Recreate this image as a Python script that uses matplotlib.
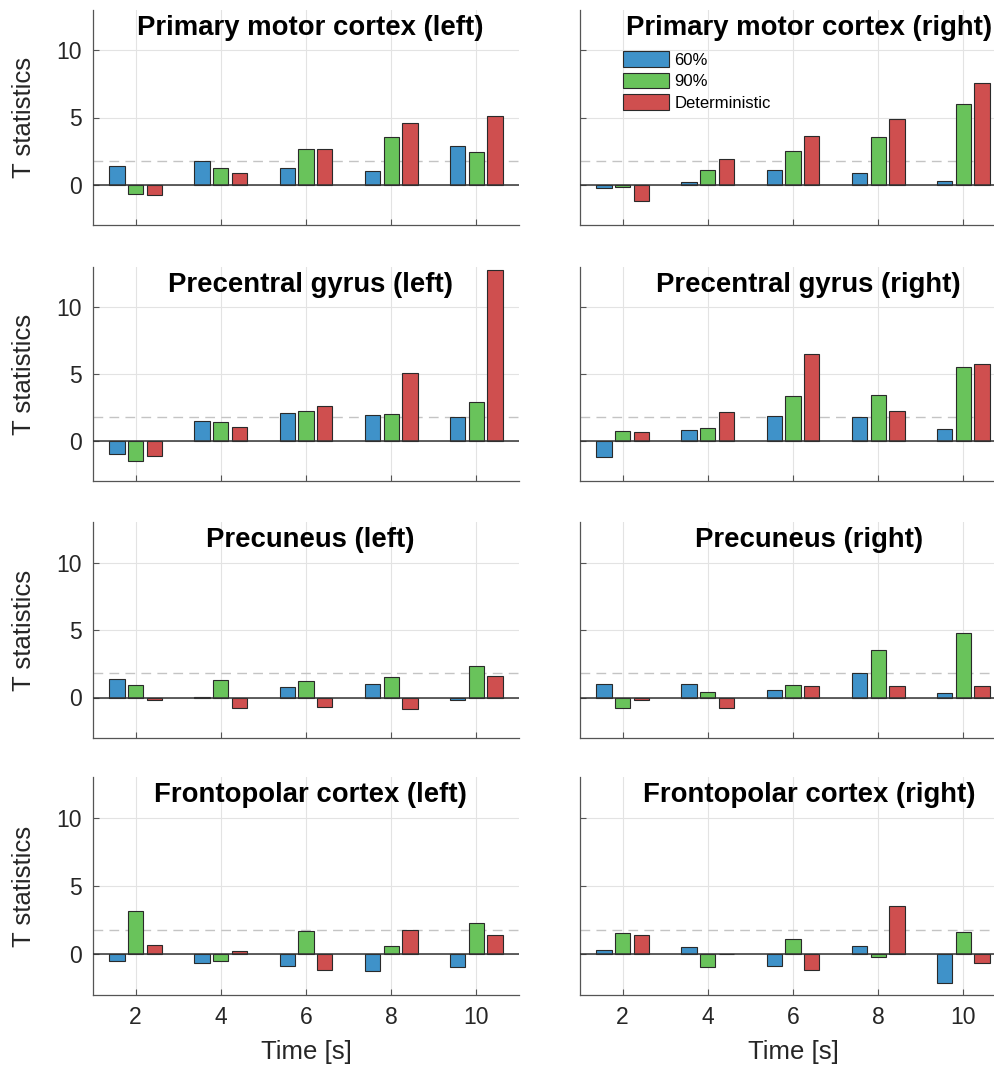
import matplotlib
matplotlib.use('Agg')
import matplotlib.pyplot as plt
import numpy as np

plt.rcParams['font.family'] = ['Liberation Sans', 'DejaVu Sans']

# ---------------- data ----------------
times = [2, 4, 6, 8, 10]
series_names = ['60%', '90%', 'Deterministic']
threshold = 1.8

pmc_left_60 = [1.39, 1.76, 1.22, 1.02, 2.85]
pmc_left_90 = [-0.67, 1.24, 2.68, 3.57, 2.41]
pmc_left_det = [-0.79, 0.89, 2.68, 4.59, 5.09]

pmc_right_60 = [-0.25, 0.17, 1.12, 0.89, 0.30]
pmc_right_90 = [-0.20, 1.12, 2.48, 3.52, 6.00]
pmc_right_det = [-1.22, 1.91, 3.60, 4.86, 7.54]

pcg_left_60 = [-0.95, 1.50, 2.10, 1.90, 1.75]
pcg_left_90 = [-1.48, 1.43, 2.20, 2.03, 2.90]
pcg_left_det = [-1.15, 1.05, 2.63, 5.10, 12.80]

pcg_right_60 = [-1.20, 0.85, 1.83, 1.75, 0.90]
pcg_right_90 = [0.73, 0.98, 3.33, 3.40, 5.53]
pcg_right_det = [0.63, 2.13, 6.53, 2.25, 5.73]

prec_left_60 = [1.35, 0.02, 0.81, 1.03, -0.20]
prec_left_90 = [0.96, 1.27, 1.20, 1.54, 2.30]
prec_left_det = [-0.20, -0.76, -0.71, -0.83, 1.62]

prec_right_60 = [1.03, 0.98, 0.56, 1.79, 0.34]
prec_right_90 = [-0.76, 0.39, 0.96, 3.50, 4.75]
prec_right_det = [-0.20, -0.78, 0.83, 0.83, 0.83]

fp_left_60 = [-0.52, -0.64, -0.88, -1.25, -0.93]
fp_left_90 = [3.17, -0.49, 1.70, 0.57, 2.26]
fp_left_det = [0.66, 0.22, -1.20, 1.79, 1.43]

fp_right_60 = [0.29, 0.49, -0.86, 0.59, -2.09]
fp_right_90 = [1.55, -0.93, 1.10, -0.20, 1.62]
fp_right_det = [1.43, 0.02, -1.18, 3.51, -0.64]

panels = [
    ("Primary motor cortex (left)", pmc_left_60, pmc_left_90, pmc_left_det),
    ("Primary motor cortex (right)", pmc_right_60, pmc_right_90, pmc_right_det),
    ("Precentral gyrus (left)", pcg_left_60, pcg_left_90, pcg_left_det),
    ("Precentral gyrus (right)", pcg_right_60, pcg_right_90, pcg_right_det),
    ("Precuneus (left)", prec_left_60, prec_left_90, prec_left_det),
    ("Precuneus (right)", prec_right_60, prec_right_90, prec_right_det),
    ("Frontopolar cortex (left)", fp_left_60, fp_left_90, fp_left_det),
    ("Frontopolar cortex (right)", fp_right_60, fp_right_90, fp_right_det),
]

# ---------------- style ----------------
colors = ['#3f92c9', '#69c35b', '#cf4f4f']
offsets = [-0.44, 0.0, 0.44]
bar_w = 0.36
text_col = '#262626'
W, H = 995, 1070

fig = plt.figure(figsize=(W / 100, H / 100), dpi=100)
col_left = [93, 580]
ax_w = 426
rows = [(10, 225), (267, 481), (522, 738), (777, 995)]
title_x = [0.51, 0.537]

x = np.array(times, dtype=float)
for i, (title, s60, s90, sdet) in enumerate(panels):
    r, c = divmod(i, 2)
    top, bot = rows[r]
    ax = fig.add_axes([col_left[c] / W, 1 - bot / H, ax_w / W, (bot - top) / H])
    for k, vals in enumerate([s60, s90, sdet]):
        ax.bar(x + offsets[k], vals, width=bar_w, color=colors[k],
               edgecolor='#2a2a2a', linewidth=0.8, zorder=3, label=series_names[k])
    ax.axhline(threshold, color='#c4c4c4', ls=(0, (7, 4.5)), lw=1.0, zorder=1)
    ax.axhline(0, color='#333333', lw=1.1, zorder=4)
    ax.set_xlim(1, 11)
    ax.set_ylim(-3, 13)
    ax.set_xticks(times)
    ax.set_yticks([0, 5, 10])
    ax.grid(True, color='#e3e3e3', lw=0.8, zorder=0)
    ax.set_axisbelow(True)
    for sp in ['top', 'right']:
        ax.spines[sp].set_visible(False)
    for sp in ['left', 'bottom']:
        ax.spines[sp].set_color('#555555')
        ax.spines[sp].set_linewidth(0.9)
    ax.tick_params(direction='in', length=4, width=0.8, color='#555555',
                   labelsize=16.5, labelcolor=text_col, pad=8)
    if c == 0:
        ax.set_ylabel('T statistics', fontsize=18.5, color=text_col)
        ax.yaxis.set_label_coords(-0.134, 0.5)
    else:
        ax.tick_params(labelleft=False)
    if r == 3:
        ax.set_xlabel('Time [s]', fontsize=18.5, color=text_col)
        ax.xaxis.set_label_coords(0.5, -0.205)
    else:
        ax.tick_params(labelbottom=False)
    ax.text(title_x[c], 1 - 5 / (bot - top), title, transform=ax.transAxes,
            ha='center', va='top', fontsize=19.8, fontweight='bold', color='black',
            zorder=6)
    if i == 1:
        ax.legend(loc='upper left', bbox_to_anchor=(0.102, 0.808), frameon=False,
                  fontsize=12, handlelength=2.76, handleheight=1.06,
                  handletextpad=0.3, labelspacing=0.3, borderpad=0,
                  borderaxespad=0)

fig.savefig('out.png', dpi=100)
